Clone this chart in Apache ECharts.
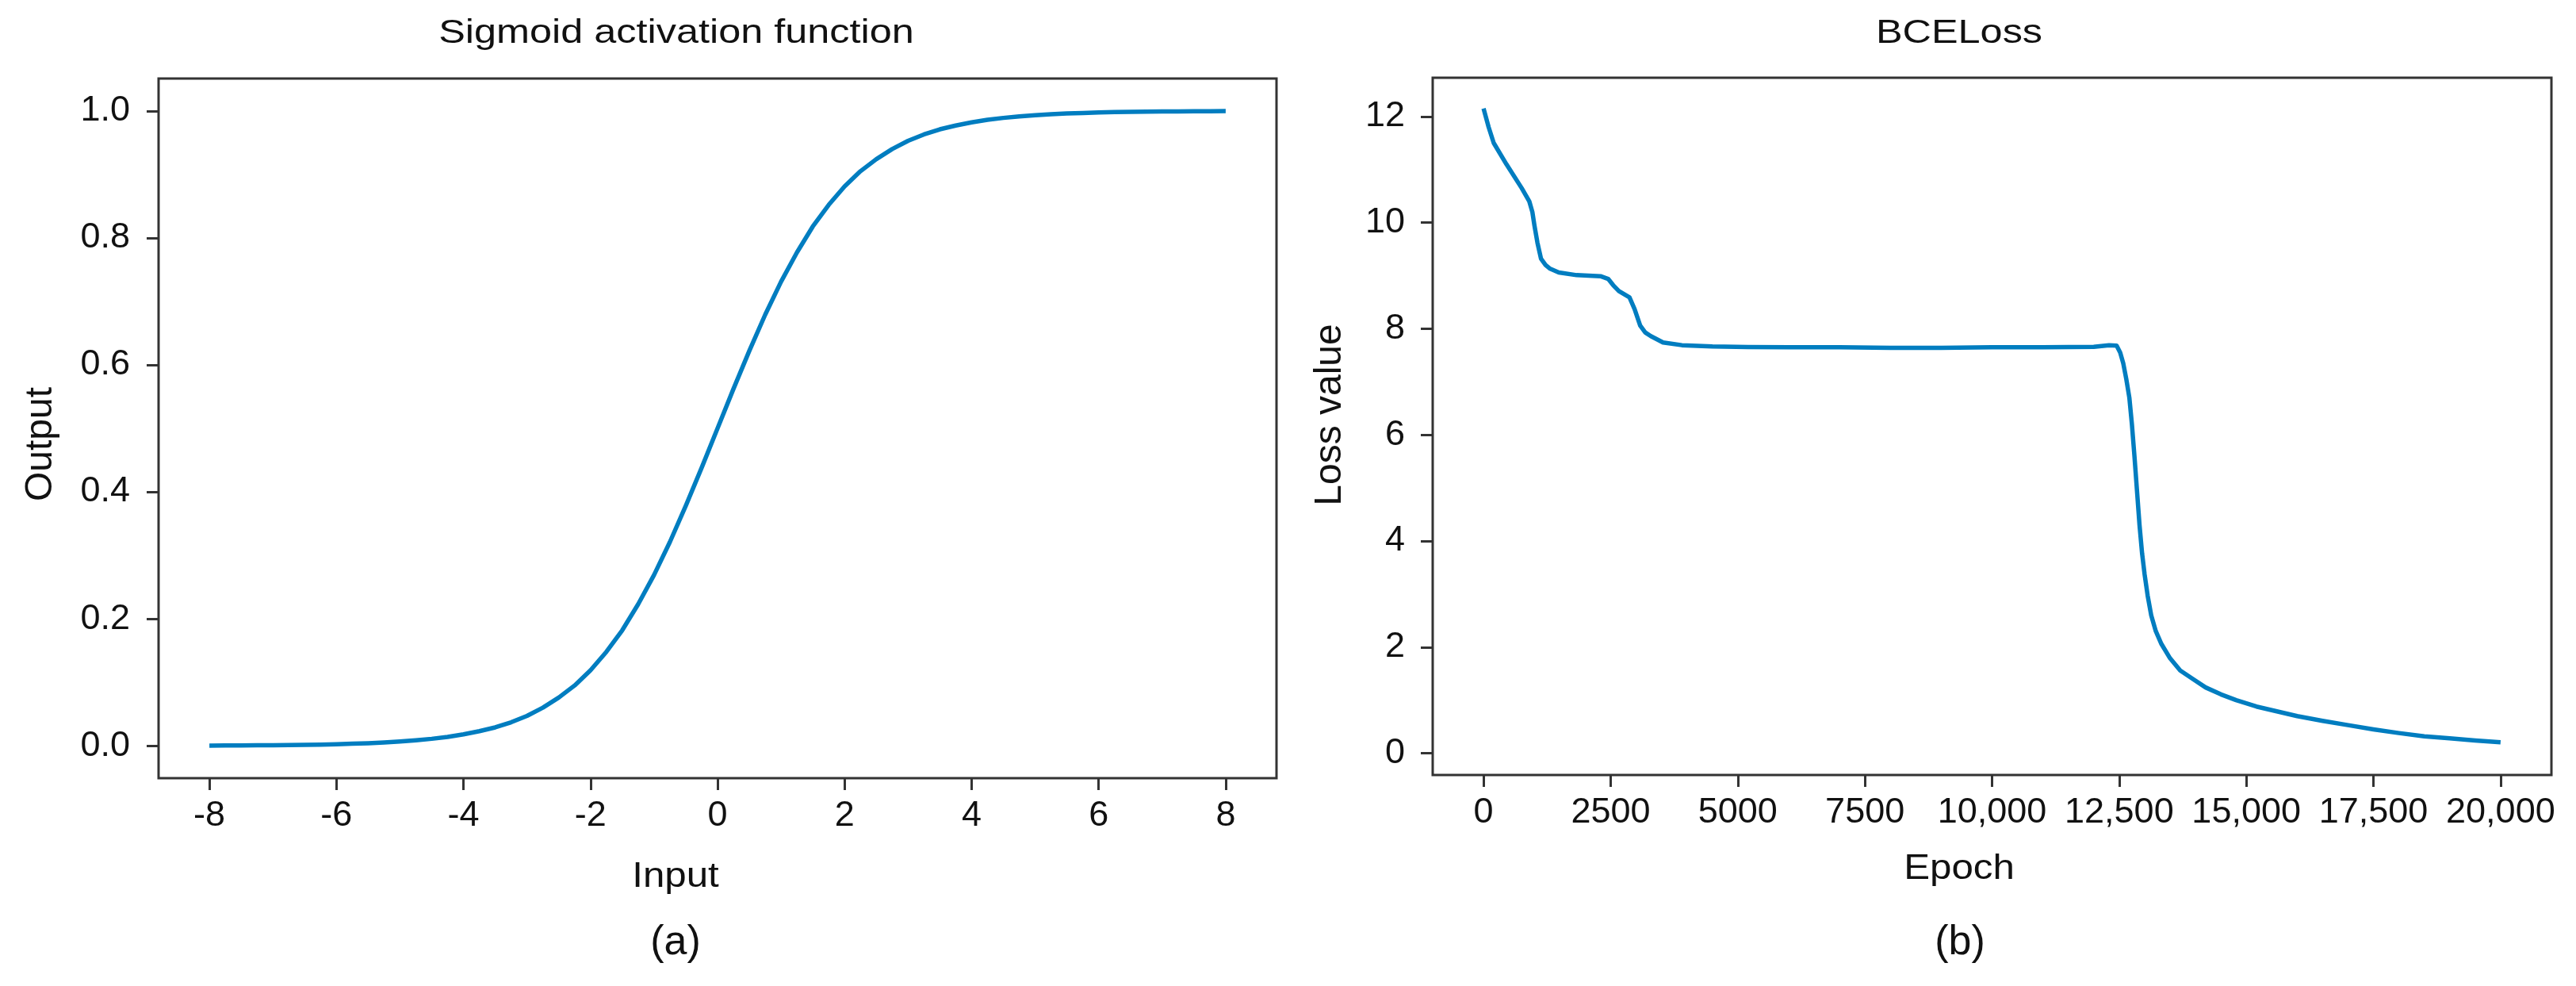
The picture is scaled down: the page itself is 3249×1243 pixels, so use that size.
<!DOCTYPE html>
<html>
<head>
<meta charset="utf-8">
<script src="https://cdn.jsdelivr.net/npm/echarts@6/dist/echarts.min.js"></script>
<style>
html,body{margin:0;padding:0;background:#fff;}
#chart{width:3249px;height:1243px;}
</style>
</head>
<body>
<div id="chart"></div>
<script>
// ---- Panel (a): sigmoid ----
const sigX = [-8,-7.75,-7.5,-7.25,-7,-6.75,-6.5,-6.25,-6,-5.75,-5.5,-5.25,-5,-4.75,-4.5,-4.25,-4,-3.75,-3.5,-3.25,-3,-2.75,-2.5,-2.25,-2,-1.75,-1.5,-1.25,-1,-0.75,-0.5,-0.25,0,0.25,0.5,0.75,1,1.25,1.5,1.75,2,2.25,2.5,2.75,3,3.25,3.5,3.75,4,4.25,4.5,4.75,5,5.25,5.5,5.75,6,6.25,6.5,6.75,7,7.25,7.5,7.75,8];
const sigY = [0.0003,0.0004,0.0006,0.0007,0.0009,0.0012,0.0015,0.0019,0.0025,0.0032,0.0041,0.0052,0.0067,0.0086,0.011,0.014,0.018,0.023,0.029,0.037,0.047,0.060,0.076,0.095,0.119,0.148,0.182,0.223,0.269,0.321,0.378,0.438,0.5,0.562,0.622,0.679,0.731,0.777,0.818,0.852,0.881,0.905,0.924,0.940,0.953,0.963,0.971,0.977,0.982,0.986,0.989,0.9914,0.9933,0.9948,0.9959,0.9968,0.9975,0.9981,0.9985,0.9988,0.9991,0.9993,0.9994,0.9996,0.9997];
const xTicksA = [-8,-6,-4,-2,0,2,4,6,8];
const xTickLabelsA = ['-8','-6','-4','-2','0','2','4','6','8'];
const yTicksA = [0,0.2,0.4,0.6,0.8,1.0];
const yTickLabelsA = ['0.0','0.2','0.4','0.6','0.8','1.0'];

// ---- Panel (b): BCE loss ----
const lossEpoch = [0,100,200,450,750,900,960,1000,1060,1130,1220,1310,1480,1830,2300,2450,2550,2660,2870,2970,3080,3180,3290,3530,3900,4500,5200,6000,7000,8000,9000,10000,11000,12000,12300,12450,12520,12580,12640,12700,12750,12800,12850,12900,12950,13000,13060,13130,13220,13330,13500,13700,13950,14200,14500,14800,15200,15600,16000,16500,17000,17500,18000,18500,19000,19500,20000];
const lossValue = [12.15,11.8,11.5,11.1,10.65,10.4,10.2,9.95,9.62,9.32,9.2,9.13,9.06,9.01,8.99,8.94,8.82,8.71,8.59,8.37,8.06,7.93,7.86,7.74,7.69,7.665,7.655,7.65,7.65,7.64,7.64,7.65,7.65,7.66,7.69,7.68,7.55,7.35,7.05,6.7,6.2,5.6,4.95,4.3,3.77,3.37,2.97,2.6,2.3,2.06,1.79,1.56,1.4,1.24,1.11,1.0,0.88,0.79,0.70,0.61,0.53,0.45,0.38,0.32,0.28,0.24,0.205];
const xTicksB = [0,2500,5000,7500,10000,12500,15000,17500,20000];
const xTickLabelsB = ['0','2500','5000','7500','10,000','12,500','15,000','17,500','20,000'];
const yTicksB = [0,2,4,6,8,10,12];
const yTickLabelsB = ['0','2','4','6','8','10','12'];

const FONT = '"Liberation Sans", Arial, Helvetica, sans-serif';
const LINE = '#007dc0';
const AX = '#333333';

function lab(ticks, labels) {
  return function (v) {
    for (let i = 0; i < ticks.length; i++) if (Math.abs(ticks[i] - v) < 1e-9) return labels[i];
    return '';
  };
}
function zip(a, b) { return a.map((v, i) => [v, b[i]]); }

const tickStyle = { show: true, inside: false, length: 15, lineStyle: { color: AX, width: 3 } };
const labelStyle = { color: '#111', fontSize: 45, fontFamily: FONT };
const hiddenLine = { show: false, onZero: false };

const chart = echarts.init(document.getElementById('chart'), null, { renderer: 'canvas' });
chart.setOption({
  animation: false,
  backgroundColor: '#fff',
  grid: [
    { left: 200, top: 99, width: 1410, height: 882, show: true, borderColor: AX, borderWidth: 3, backgroundColor: 'transparent' },
    { left: 1807, top: 98, width: 1411, height: 879, show: true, borderColor: AX, borderWidth: 3, backgroundColor: 'transparent' }
  ],
  xAxis: [
    { type: 'value', gridIndex: 0, min: -8.8, max: 8.8, position: 'bottom',
      axisLine: hiddenLine, splitLine: { show: false },
      axisTick: Object.assign({ customValues: xTicksA }, tickStyle),
      axisLabel: Object.assign({ customValues: xTicksA, margin: 25, formatter: lab(xTicksA, xTickLabelsA) }, labelStyle) },
    { type: 'value', gridIndex: 1, min: -1000, max: 21000, position: 'bottom',
      axisLine: hiddenLine, splitLine: { show: false },
      axisTick: Object.assign({ customValues: xTicksB }, tickStyle),
      axisLabel: Object.assign({ customValues: xTicksB, margin: 25, formatter: lab(xTicksB, xTickLabelsB) }, labelStyle) }
  ],
  yAxis: [
    { type: 'value', gridIndex: 0, min: -0.051, max: 1.051, position: 'left',
      axisLine: hiddenLine, splitLine: { show: false },
      axisTick: Object.assign({ customValues: yTicksA }, tickStyle),
      axisLabel: Object.assign({ customValues: yTicksA, margin: 36, formatter: lab(yTicksA, yTickLabelsA) }, labelStyle) },
    { type: 'value', gridIndex: 1, min: -0.41, max: 12.73, position: 'left',
      axisLine: hiddenLine, splitLine: { show: false },
      axisTick: Object.assign({ customValues: yTicksB }, tickStyle),
      axisLabel: Object.assign({ customValues: yTicksB, margin: 35, formatter: lab(yTicksB, yTickLabelsB) }, labelStyle) }
  ],
  series: [
    { type: 'line', xAxisIndex: 0, yAxisIndex: 0, data: zip(sigX, sigY), showSymbol: false,
      smooth: false, lineStyle: { color: LINE, width: 5.5, join: 'round' } },
    { type: 'line', xAxisIndex: 1, yAxisIndex: 1, data: zip(lossEpoch, lossValue), showSymbol: false,
      smooth: false, lineStyle: { color: LINE, width: 5.5, join: 'round' } }
  ],
  graphic: [
    { type: 'text', x: 853, y: 42, scaleX: 1.2, style: { text: 'Sigmoid activation function', font: '42px ' + FONT, fill: '#111', textAlign: 'center', textVerticalAlign: 'middle' } },
    { type: 'text', x: 2471, y: 42, scaleX: 1.2, style: { text: 'BCELoss', font: '42px ' + FONT, fill: '#111', textAlign: 'center', textVerticalAlign: 'middle' } },
    { type: 'text', x: 852, y: 1106, scaleX: 1.12, style: { text: 'Input', font: '44px ' + FONT, fill: '#111', textAlign: 'center', textVerticalAlign: 'middle' } },
    { type: 'text', x: 2471, y: 1096, scaleX: 1.12, style: { text: 'Epoch', font: '44px ' + FONT, fill: '#111', textAlign: 'center', textVerticalAlign: 'middle' } },
    { type: 'text', x: 852, y: 1189, style: { text: '(a)', font: '52px ' + FONT, fill: '#111', textAlign: 'center', textVerticalAlign: 'middle' } },
    { type: 'text', x: 2472, y: 1189, style: { text: '(b)', font: '52px ' + FONT, fill: '#111', textAlign: 'center', textVerticalAlign: 'middle' } },
    { type: 'text', x: 52, y: 560, rotation: Math.PI / 2, style: { text: 'Output', font: '48px ' + FONT, fill: '#111', textAlign: 'center', textVerticalAlign: 'middle' } },
    { type: 'text', x: 1678, y: 523, rotation: Math.PI / 2, style: { text: 'Loss value', font: '48px ' + FONT, fill: '#111', textAlign: 'center', textVerticalAlign: 'middle' } }
  ]
});
</script>
</body>
</html>
